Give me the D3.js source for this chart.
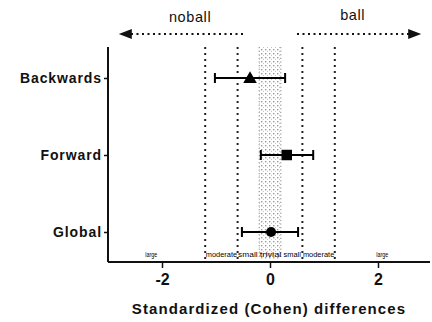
<!DOCTYPE html>
<html>
<head>
<meta charset="utf-8">
<script src="https://cdn.jsdelivr.net/npm/d3@7"></script>
<style>
  html, body { margin: 0; padding: 0; background: #fff; }
  svg { display: block; font-family: "Liberation Sans", Arial, sans-serif; }
  .zone { opacity: 0.99; }
</style>
</head>
<body>
<svg id="chart" width="432" height="322"></svg>
<script>
// Effect estimates with 95% confidence limits (standardized Cohen differences)
const categories = ["Backwards", "Forward", "Global"];
const estimates  = [-0.37, 0.31, 0.02];
const lowerCI    = [-1.02, -0.17, -0.52];
const upperCI    = [0.28, 0.80, 0.52];
const markers    = ["triangle", "square", "circle"];

// Hopkins thresholds for effect magnitude
const thresholds = [-1.2, -0.6, 0.6, 1.2];
const trivialBand = [-0.2, 0.2];
const zoneLabels = ["large", "moderate", "small", "trivial", "small", "moderate", "large"];
const zoneSpans  = [[-2.32, -2.08], [-1.2, -0.6], [-0.6, -0.22], [-0.2, 0.22], [0.24, 0.58], [0.6, 1.2], [1.96, 2.2]];

// Direction annotations
const directionLabels = ["noball", "ball"];
const directionCenters = [-1.48, 1.53];
const arrowSpans = [[-0.5, -2.8], [0.5, 2.8]];

const xTicks = [-2, 0, 2];

const svg = d3.select("#chart");
const x = d3.scaleLinear().domain([-3, 3]).range([108, 432]);
const y = d3.scalePoint().domain(categories).range([78, 232]);
const yTop = 47, yBottom = 262;

// Dot pattern for the trivial band
const defs = svg.append("defs");
const pat = defs.append("pattern")
  .attr("id", "dots").attr("patternUnits", "userSpaceOnUse")
  .attr("width", 4).attr("height", 4);
pat.append("rect").attr("x", 1).attr("y", 1).attr("width", 1.4).attr("height", 1.4).attr("fill", "#9a9a9a");
pat.append("rect").attr("x", 3).attr("y", 3).attr("width", 1.2).attr("height", 1.2).attr("fill", "#c4c4c4");

const plot = svg.append("g");

// trivial band
plot.append("rect")
  .attr("x", x(trivialBand[0])).attr("y", yTop)
  .attr("width", x(trivialBand[1]) - x(trivialBand[0]))
  .attr("height", yBottom - 3 - yTop)
  .attr("fill", "url(#dots)");
trivialBand.forEach(v => {
  plot.append("line")
    .attr("x1", x(v)).attr("x2", x(v)).attr("y1", yTop).attr("y2", yBottom - 3)
    .attr("stroke", "#888").attr("stroke-width", 1).attr("stroke-dasharray", "1.2,2.4");
});

// threshold lines
plot.selectAll("line.thr").data(thresholds).join("line")
  .attr("class", "thr")
  .attr("x1", d => x(d)).attr("x2", d => x(d))
  .attr("y1", yTop).attr("y2", yBottom - 3)
  .attr("stroke", "#222").attr("stroke-width", 2).attr("stroke-dasharray", "2,4");

// zone labels, horizontally squeezed to fit each zone
const zoneG = plot.selectAll("g.zone").data(zoneLabels).join("g")
  .attr("class", "zone")
  .attr("transform", (d, i) => `translate(${(x(zoneSpans[i][0]) + x(zoneSpans[i][1])) / 2},257)`);
zoneG.append("text")
  .attr("text-anchor", "middle")
  .attr("font-size", 8)
  .attr("fill", "#000")
  .text(d => d)
  .each(function (d, i) {
    const w = this.getComputedTextLength();
    const target = x(zoneSpans[i][1]) - x(zoneSpans[i][0]) - 1;
    d3.select(this).attr("transform", `scale(${target / w},1)`);
  });

// direction arrows
arrowSpans.forEach(s => {
  const tip = x(s[1]);
  const dir = Math.sign(s[1] - s[0]);
  plot.append("line")
    .attr("x1", x(s[0])).attr("x2", tip - dir * 8)
    .attr("y1", 34).attr("y2", 34)
    .attr("stroke", "#111").attr("stroke-width", 2).attr("stroke-dasharray", "2,3.5");
  plot.append("path")
    .attr("d", `M${tip},34 L${tip - dir * 13},29 L${tip - dir * 13},39 Z`)
    .attr("fill", "#111");
});
plot.selectAll("text.dir").data(directionLabels).join("text")
  .attr("class", "dir")
  .attr("x", (d, i) => x(directionCenters[i]))
  .attr("y", (d, i) => i === 0 ? 22 : 20)
  .attr("text-anchor", "middle")
  .attr("font-size", 14.5)
  .attr("letter-spacing", 0.6)
  .attr("fill", "#111")
  .text(d => d);

// axes
const xAxis = svg.append("g")
  .attr("transform", `translate(0,${yBottom})`)
  .call(d3.axisBottom(x).tickValues(xTicks).tickSize(6).tickFormat(d3.format("d")));
xAxis.select(".domain").attr("d", `M${x(-3)},0H${x(3) - 2}`).attr("stroke", "#111").attr("stroke-width", 2);
xAxis.selectAll(".tick line").attr("stroke", "#111").attr("stroke-width", 1.5);
xAxis.selectAll(".tick text")
  .attr("font-family", "'Liberation Sans', Arial, sans-serif")
  .attr("font-size", 16).attr("font-weight", "bold").attr("fill", "#111")
  .attr("dy", "0.95em").attr("y", 8)
  .text(d => d < 0 ? "-" + Math.abs(d) : d);

const yAxis = svg.append("g")
  .attr("transform", `translate(${x(-3)},0)`)
  .call(d3.axisLeft(y).tickSize(4).tickPadding(2));
yAxis.select(".domain").attr("d", `M0,${yTop}V${yBottom}`).attr("stroke", "#111").attr("stroke-width", 2);
yAxis.selectAll(".tick line").attr("stroke", "#111").attr("stroke-width", 1.5);
yAxis.selectAll(".tick text")
  .attr("font-family", "'Liberation Sans', Arial, sans-serif")
  .attr("font-size", 14).attr("font-weight", "bold").attr("fill", "#111")
  .attr("letter-spacing", 0.9);

// axis title
svg.append("text")
  .attr("x", 269).attr("y", 314)
  .attr("text-anchor", "middle")
  .attr("font-size", 15).attr("font-weight", "bold")
  .attr("letter-spacing", 1.1)
  .attr("fill", "#111")
  .text("Standardized (Cohen) differences");

// error bars and point estimates
const rows = categories.map((c, i) => ({ c, est: estimates[i], lo: lowerCI[i], hi: upperCI[i], m: markers[i] }));
const g = plot.selectAll("g.row").data(rows).join("g").attr("class", "row");
g.append("line")
  .attr("x1", d => x(d.lo)).attr("x2", d => x(d.hi))
  .attr("y1", d => y(d.c)).attr("y2", d => y(d.c))
  .attr("stroke", "#000").attr("stroke-width", 2);
g.selectAll("line.cap").data(d => [d.lo, d.hi].map(v => ({ v, c: d.c }))).join("line")
  .attr("class", "cap")
  .attr("x1", d => x(d.v)).attr("x2", d => x(d.v))
  .attr("y1", d => y(d.c) - 5).attr("y2", d => y(d.c) + 5)
  .attr("stroke", "#000").attr("stroke-width", 2);
const symbolType = { triangle: d3.symbolTriangle, square: d3.symbolSquare, circle: d3.symbolCircle };
const symbolSize = { triangle: 80, square: 110, circle: 80 };
g.append("path")
  .attr("transform", d => `translate(${x(d.est)},${y(d.c) + (d.m === "triangle" ? 1 : 0)})`)
  .attr("d", d => d3.symbol().type(symbolType[d.m]).size(symbolSize[d.m])())
  .attr("fill", "#000");
</script>
</body>
</html>
